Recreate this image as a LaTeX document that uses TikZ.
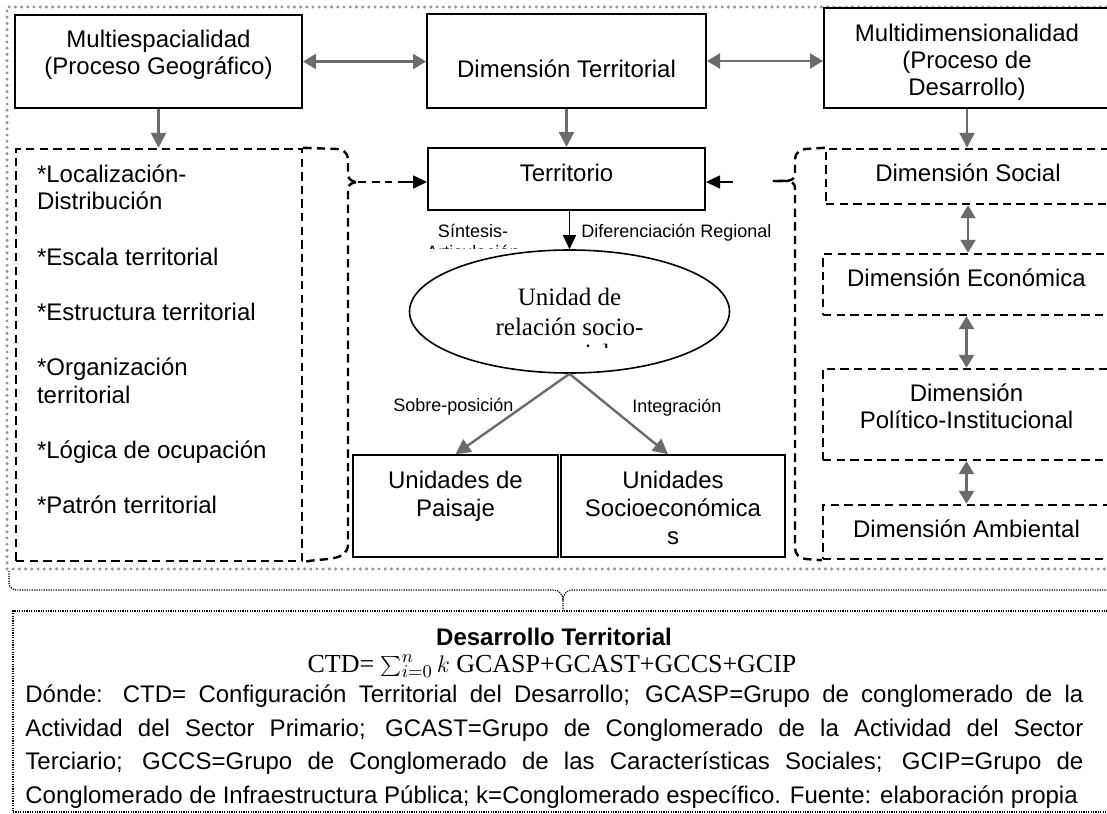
\documentclass[tikz,border=0pt]{standalone}
\usepackage{fontspec}
\setmainfont{Liberation Sans}
\newfontfamily\serifface{Liberation Serif}
\usetikzlibrary{arrows.meta,shapes.geometric}
\definecolor{arrgray}{HTML}{6B6B6B}
\definecolor{dotgray}{HTML}{969696}
\newcommand\fmain{\fontsize{12}{13.5}\selectfont}
\newcommand\fsmall{\fontsize{9}{10.35}\selectfont}
\newcommand\topbox[4]{\parbox[c][#2][t]{#1}{\centering\vspace*{#3}\strut #4\par}}
\begin{document}
\begin{tikzpicture}[x=0.5pt,y=-0.5pt,
  solidbox/.style={draw,line width=1pt,fill=white,inner sep=0pt,font=\fmain},
  thinbox/.style={draw,line width=0.8pt,fill=white,inner sep=0pt,font=\fontsize{12}{14}\selectfont},
  dshbox/.style={draw,line width=1.2pt,dash pattern=on 4.2pt off 2.6pt,inner sep=0pt,font=\fmain},
  dsh/.style={line width=1.2pt,dash pattern=on 4.2pt off 2.6pt},
  garr/.style={draw=arrgray,line width=1.2pt,-{Triangle[length=7.5pt,width=7.5pt]}},
  gdbl/.style={draw=arrgray,line width=1.2pt,{Triangle[length=6.5pt,width=7.5pt]}-{Triangle[length=6.5pt,width=7.5pt]}},
  barr/.style={draw=black,line width=0.8pt,-{Triangle[length=7pt,width=6.5pt]}},
  lbl/.style={font=\fsmall,inner sep=0pt},
  tdot/.style={line width=0.6pt,dash pattern=on 0.6pt off 0.6pt},
  gdot/.style={draw=dotgray,line width=1.7pt,line cap=round,dash pattern=on 0pt off 3.1pt}
]
\useasboundingbox (0,0) rectangle (1107,813);

% outer gray dotted frame
\draw[gdot] (7,569) -- (7,7) -- (1115,7);
\draw[gdot] (7,569) -- (1115,569);

% top boxes
\node[solidbox] (mesp) at (158.5,61.5) {\topbox{143.5pt}{46.5pt}{7pt}{Multiespacialidad\\(Proceso Geográfico)}};
\node[solidbox] (dterr) at (566.5,61) {\topbox{139.5pt}{47pt}{22.5pt}{Dimensión Territorial}};
\node[solidbox] (mdim) at (967,58) {\topbox{143pt}{50pt}{7.5pt}{Multidimensionalidad\\(Proceso de\\Desarrollo)}};

% territorio and ellipse
\node[solidbox] (terr) at (566.5,179) {\topbox{138.5pt}{31pt}{7.5pt}{Territorio}};
\node[draw,ellipse,line width=0.8pt,minimum width=160pt,minimum height=61.5pt,inner sep=0pt,align=center,
  font=\serifface\fontsize{12.5}{15}\selectfont] (ell) at (569.5,311.5) {Unidad de\\relación socio-};
\begin{scope}
  \clip (480,335) rectangle (660,347);
  \node[font=\serifface\fontsize{12.5}{15}\selectfont,inner sep=0pt,anchor=base] (ell3) at (569.5,361) {espacial};
\end{scope}

% unit boxes
\node[thinbox] (upai) at (455.5,506) {\topbox{102.5pt}{51pt}{6.7pt}{Unidades de\\Paisaje}};
\node[thinbox] (usoc) at (673,506) {\topbox{112pt}{51pt}{6.7pt}{Unidades\\Socioeconómica\\s}};

% left dashed list
\node[dshbox,font=\fontsize{12}{13.8}\selectfont] (lbox) at (159,355) {\parbox[c][206pt][t]{143pt}{\raggedright\leftskip=10.5pt\relax
  \vspace*{7pt}\strut *Localización-\\Distribución\\[13.8pt]*Escala territorial\\[13.8pt]*Estructura territorial\\[13.8pt]*Organización\\territorial\\[13.8pt]*Lógica de ocupación\\[13.8pt]*Patrón territorial\par}};

% right dashed boxes
\node[dshbox] (dsoc) at (968,176.5) {\topbox{142pt}{27.5pt}{7pt}{Dimensión Social}};
\node[dshbox] (deco) at (966.5,284.5) {\topbox{143.5pt}{30.5pt}{7pt}{Dimensión Económica}};
\node[dshbox] (dpol) at (966.5,414.5) {\topbox{143.5pt}{45.5pt}{7pt}{Dimensión\\Político-Institucional}};
\node[dshbox] (damb) at (966.5,532) {\topbox{143.5pt}{27pt}{7pt}{Dimensión Ambiental}};

% labels
\node[lbl,anchor=base] (sint) at (473,237) {Síntesis-};
\begin{scope}
  \clip (400,225) rectangle (545,248.5);
  \node[lbl,anchor=base] (artic) at (473,258) {Articulación};
\end{scope}
\node[lbl,anchor=base west] (difreg) at (581,237) {Diferenciación Regional};
\node[lbl,anchor=base west] (sobre) at (393,411) {Sobre-posición};
\node[lbl,anchor=base west] (integ) at (632,412) {Integración};

% arrows
\draw[gdbl] (mesp.east) -- (mesp.east -| dterr.west);
\draw[gdbl] (dterr.east) -- (dterr.east -| mdim.west);
\draw[garr] (mesp.south) -- (mesp.south |- lbox.north);
\draw[garr] (dterr.south) -- (terr.north);
\draw[garr] (mdim.south) -- (mdim.south |- dsoc.north);
\draw[barr] (terr.south -| ell.north) -- (ell.north);
\draw[garr] (ell.south) -- (upai.north);
\draw[garr] (ell.south) -- ([xshift=-2.5pt]usoc.north);
\draw[gdbl] (dsoc.south) -- (dsoc.south |- deco.north);
\draw[gdbl] (deco.south) -- (deco.south |- dpol.north);
\draw[gdbl] (dpol.south) -- (dpol.south |- damb.north);

% left brace
\coordinate (ltip) at (358,182);
\coordinate (lmid) at (392,182);
\coordinate (larr) at (398,182);
\draw[dsh] (lbox.north east) -- (337,149) to[out=0,in=90] (348,159) -- (348,175) to[out=-90,in=180] (ltip)
  to[out=180,in=90] (348,189) -- (348,544) to[out=-90,in=15] (lbox.south east);
\draw[dsh] (ltip) -- (lmid);
\draw[barr] (larr) -- (terr.west |- larr);

% right brace
\coordinate (rtip) at (773,181);
\coordinate (rarr) at (733,182);
\draw[dsh] (dsoc.north west) -- (806,149) to[out=180,in=90] (795,159) -- (795,174) to[out=-90,in=0] (rtip)
  to[out=0,in=90] (795,188) -- (795,548) to[out=-90,in=180] (806,559) -- (damb.south west);
\draw[barr] (rarr) -- (terr.east |- rarr);

% bottom brace and box
\coordinate (btip) at (563,611);
\draw[tdot] (9,571) -- (9,583) to[out=-90,in=180] (17,590) -- (554,590) to[out=0,in=90] (563,600) -- (btip)
  (563,600) to[out=90,in=180] (572,590) -- (1115,590);
\node[draw,tdot,minimum width=551pt,minimum height=100.5pt,inner sep=0pt] (lowbox) at (564,711.5) {};

\node[font=\bfseries\fontsize{12}{13.8}\selectfont,inner sep=0pt,anchor=base] (dtitle) at (554,645) {Desarrollo Territorial};
\node[font=\serifface\fontsize{13}{15}\selectfont,inner sep=0pt,anchor=base] (ctd) at (552,672) {CTD= $\sum_{i=0}^{n} k$ GCASP+GCAST+GCCS+GCIP};
\node[text width=529pt,align=justify,inner sep=0pt,anchor=north west] (donde) at (25,678.5)
 {\fontsize{12}{16.8}\selectfont\tolerance=9000\hyphenpenalty=10000\relax\strut Dónde: CTD= Configuración Territorial del Desarrollo; GCASP=Grupo de conglomerado de la\linebreak
 Actividad del Sector Primario; GCAST=Grupo de Conglomerado de la Actividad del Sector\linebreak
 Terciario; GCCS=Grupo de Conglomerado de las Características Sociales; GCIP=Grupo de\linebreak
 Conglomerado de Infraestructura Pública; k=Conglomerado específico. Fuente: elaboración propia\par};
\end{tikzpicture}
\end{document}
